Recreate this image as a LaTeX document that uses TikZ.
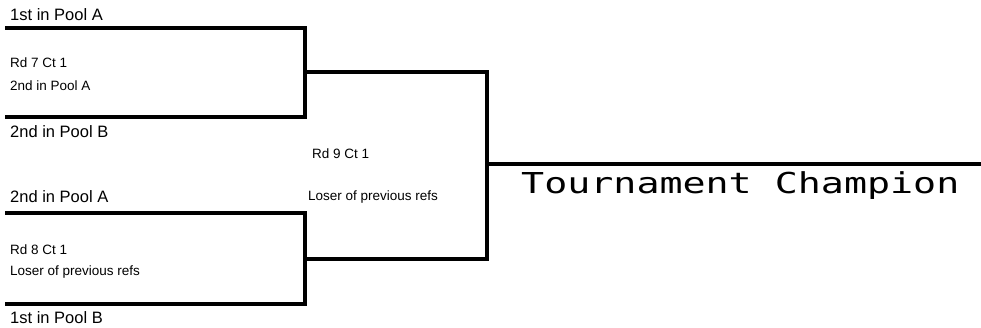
\documentclass[tikz,border=0pt]{standalone}
\usepackage{fontspec}
\setmainfont{Liberation Sans}
\newfontfamily\champfont{DejaVu Sans Mono}
\begin{document}
\begin{tikzpicture}[x=1pt,y=-1pt,
  bracket/.style={line width=4pt,black,line join=miter},
  big/.style={anchor=base west,inner sep=0pt,font=\fontsize{16.5}{18}\selectfont},
  small/.style={anchor=base west,inner sep=0pt,font=\fontsize{13.5}{15}\selectfont},
  champ/.style={anchor=base west,inner sep=0pt,font=\champfont\fontsize{28.8}{32}\selectfont}]
\useasboundingbox (0,0) rectangle (981,327);
% bracket points
\coordinate (a1) at (5,28);
\coordinate (a2) at (305,28);
\coordinate (a3) at (305,117);
\coordinate (a4) at (5,117);
\coordinate (am) at (305,72);
\coordinate (b1) at (5,213);
\coordinate (b2) at (305,213);
\coordinate (b3) at (305,304);
\coordinate (b4) at (5,304);
\coordinate (bm) at (305,259);
\coordinate (c1) at (487,72);
\coordinate (c2) at (487,259);
\coordinate (cm) at (487,164);
\coordinate (end) at (981,164);
\draw[bracket] (a1) -- (a2) -- (a3) -- (a4);
\draw[bracket] (b1) -- (b2) -- (b3) -- (b4);
\draw[bracket] (am) -- (c1) -- (c2) -- (bm);
\draw[bracket] (cm) -- (end);
% texts
\node[big] (t1) at (10,20) {1st in Pool A};
\node[small] (t2) at (10,67) {Rd 7 Ct 1};
\node[small] (t3) at (10,90) {2nd in Pool A};
\node[big] (t4) at (10,137) {2nd in Pool B};
\node[big] (t5) at (10,202) {2nd in Pool A};
\node[small] (t6) at (10,254) {Rd 8 Ct 1};
\node[small] (t7) at (10,275) {Loser of previous refs};
\node[big] (t8) at (10,323) {1st in Pool B};
\node[small] (t9) at (312,158) {Rd 9 Ct 1};
\node[small] (t10) at (308,200) {Loser of previous refs};
\node[champ] (t11) at (521,193) {\scalebox{1.33}[1]{Tournament Champion}};
\end{tikzpicture}
\end{document}
